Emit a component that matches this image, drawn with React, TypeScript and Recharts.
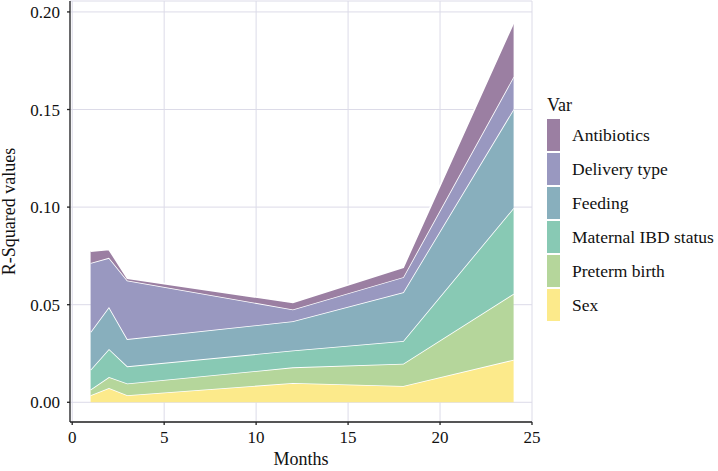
import React from "react";
import {
  Area,
  AreaChart,
  CartesianGrid,
  XAxis,
  YAxis,
} from "recharts";

const months = [1, 2, 3, 12, 18, 24];

// stacked bottom -> top
const sex = [0.0036, 0.0073, 0.0036, 0.0099, 0.0084, 0.0218];
const pretermBirth = [0.0029, 0.0056, 0.006, 0.008, 0.0114, 0.0338];
const maternalIbd = [0.0102, 0.0144, 0.0088, 0.0086, 0.0116, 0.044];
const feeding = [0.0193, 0.0215, 0.014, 0.015, 0.025, 0.0506];
const deliveryType = [0.0354, 0.0252, 0.03, 0.0061, 0.0077, 0.0166];
const antibiotics = [0.006, 0.0043, 0.0012, 0.0035, 0.0051, 0.0277];

const xTicks = [0, 5, 10, 15, 20, 25];
const yTicks = [0, 0.05, 0.1, 0.15, 0.2];

const series = [
  { key: "Sex", values: sex, color: "#fcea8b" },
  { key: "Preterm birth", values: pretermBirth, color: "#b5d69b" },
  { key: "Maternal IBD status", values: maternalIbd, color: "#88c9b4" },
  { key: "Feeding", values: feeding, color: "#88afbd" },
  { key: "Delivery type", values: deliveryType, color: "#9998c0" },
  { key: "Antibiotics", values: antibiotics, color: "#9b7fa2" },
];

const data = months.map((m, i) => {
  const row: Record<string, number> = { month: m };
  series.forEach((s) => {
    row[s.key] = s.values[i];
  });
  return row;
});

const FONT = "'Liberation Serif', serif";

function VarLegend() {
  const items = [...series].reverse();
  return (
    <div style={{ position: "absolute", left: 547, top: 94, fontFamily: FONT, color: "#111" }}>
      <div style={{ fontSize: 18, height: 22, lineHeight: "22px", marginBottom: 3 }}>Var</div>
      {items.map((s) => (
        <div key={s.key} style={{ display: "flex", alignItems: "center", height: 34 }}>
          <div style={{ width: 13, height: 32, marginBottom: 2, background: s.color }} />
          <span style={{ marginLeft: 12, marginBottom: 1, fontSize: 17.5, whiteSpace: "nowrap" }}>{s.key}</span>
        </div>
      ))}
    </div>
  );
}

export default function App() {
  return (
    <div style={{ position: "absolute", left: 0, top: 0, width: 718, height: 471, background: "#fff", fontFamily: FONT }}>
      <AreaChart
        width={718}
        height={471}
        data={data}
        margin={{ top: 1, right: 186, left: 8, bottom: 19 }}
      >
        <CartesianGrid stroke="#dcdbe8" strokeWidth={1} />
        <XAxis
          dataKey="month"
          type="number"
          domain={[-0.12, 25]}
          ticks={xTicks}
          allowDataOverflow
          height={30}
          tickSize={3}
          tickMargin={6}
          stroke="#222"
          strokeWidth={1.3}
          tick={{ fill: "#111", fontSize: 17, fontFamily: FONT }}
          label={{ value: "Months", position: "bottom", offset: 0, fill: "#111", fontSize: 18, fontFamily: FONT }}
        />
        <YAxis
          type="number"
          domain={[-0.0101, 0.2056]}
          ticks={yTicks}
          allowDataOverflow
          width={62}
          tickSize={3}
          tickMargin={7}
          stroke="#222"
          strokeWidth={1.3}
          tickFormatter={(v: number) => v.toFixed(2)}
          tick={{ fill: "#111", fontSize: 17, fontFamily: FONT }}
          label={{
            value: "R-Squared values",
            angle: -90,
            position: "insideLeft",
            offset: 1,
            fill: "#111",
            fontSize: 18,
            fontFamily: FONT,
            style: { textAnchor: "middle" },
          }}
        />
        {series.map((s) => (
          <Area
            key={s.key}
            dataKey={s.key}
            stackId="1"
            type="linear"
            fill={s.color}
            fillOpacity={1}
            stroke="#ffffff"
            strokeWidth={1.6}
            isAnimationActive={false}
            dot={false}
            activeDot={false}
          />
        ))}
      </AreaChart>
      <VarLegend />
    </div>
  );
}
